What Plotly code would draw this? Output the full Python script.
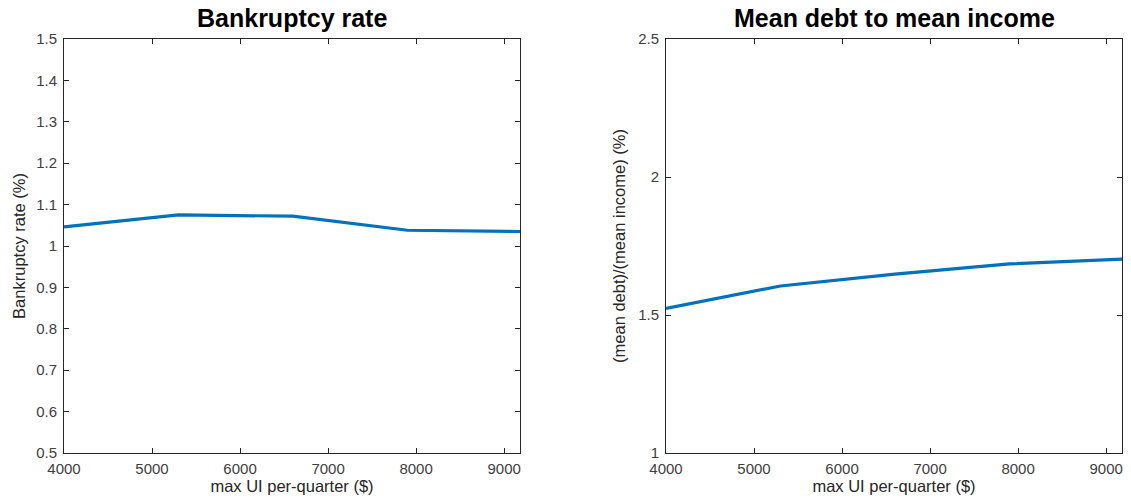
import plotly.graph_objects as go
from plotly.subplots import make_subplots

# Data
ui_max = [4000, 5300, 6600, 7900, 9200]
bankruptcy_rate = [1.046, 1.075, 1.072, 1.038, 1.035]
debt_to_income = [1.524, 1.605, 1.648, 1.685, 1.703]

x_ticks = [4000, 5000, 6000, 7000, 8000, 9000]
left_yticks = [0.5, 0.6, 0.7, 0.8, 0.9, 1.0, 1.1, 1.2, 1.3, 1.4, 1.5]
left_yticklabels = ["0.5", "0.6", "0.7", "0.8", "0.9", "1", "1.1", "1.2", "1.3", "1.4", "1.5"]
right_yticks = [1, 1.5, 2, 2.5]
right_yticklabels = ["1", "1.5", "2", "2.5"]

titles = ["Bankruptcy rate", "Mean debt to mean income"]
ytitles = ["Bankruptcy rate (%)", "(mean debt)/(mean income) (%)"]
xtitle = "max UI per-quarter ($)"

LINE_COLOR = "#0072BD"
AX_COLOR = "#262626"
TICK_COLOR = "#404040"
FONT = "Liberation Sans, Arial, Helvetica, sans-serif"

fig = make_subplots(rows=1, cols=2)

fig.add_trace(go.Scatter(x=ui_max, y=bankruptcy_rate, mode="lines",
                         line=dict(color=LINE_COLOR, width=3.2), showlegend=False), row=1, col=1)
fig.add_trace(go.Scatter(x=ui_max, y=debt_to_income, mode="lines",
                         line=dict(color=LINE_COLOR, width=3.2), showlegend=False), row=1, col=2)

W, H = 1131, 500
xd1 = [64 / W, 520 / W]
xd2 = [666 / W, 1122 / W]
yd = [1 - 453 / H, 1 - 39 / H]

common_axis = dict(
    showgrid=False, zeroline=False, showline=True, linecolor=AX_COLOR, linewidth=1,
    mirror="ticks", ticks="inside", ticklen=5, tickcolor=AX_COLOR, tickwidth=1,
    tickfont=dict(family=FONT, size=15, color=TICK_COLOR), automargin=False,
)

fig.update_xaxes(**common_axis, range=[4000, 9180], tickvals=x_ticks, ticklabelstandoff=2,
                 title=dict(text=xtitle, font=dict(family=FONT, size=16.5, color=AX_COLOR), standoff=3))
fig.update_xaxes(domain=xd1, row=1, col=1)
fig.update_xaxes(domain=xd2, row=1, col=2)

fig.update_yaxes(**common_axis, ticklabelstandoff=3)
fig.update_yaxes(domain=yd, range=[0.5, 1.5], tickvals=left_yticks, ticktext=left_yticklabels,
                 title=dict(text=ytitles[0], font=dict(family=FONT, size=16.5, color=AX_COLOR), standoff=6),
                 row=1, col=1)
fig.update_yaxes(domain=yd, range=[1, 2.5], tickvals=right_yticks, ticktext=right_yticklabels,
                 title=dict(text=ytitles[1], font=dict(family=FONT, size=16.5, color=AX_COLOR), standoff=8),
                 row=1, col=2)

for i, t in enumerate(titles):
    xc = (xd1[0] + xd1[1]) / 2 if i == 0 else (xd2[0] + xd2[1]) / 2
    fig.add_annotation(text="<b>%s</b>" % t, x=xc, y=1 - 18 / H, xref="paper", yref="paper",
                       xanchor="center", yanchor="middle", showarrow=False,
                       font=dict(family=FONT, size=25, color="#000000"))

fig.update_layout(
    width=W, height=H, margin=dict(l=0, r=0, t=0, b=0),
    paper_bgcolor="white", plot_bgcolor="white",
    font=dict(family=FONT, color=AX_COLOR),
)

fig.write_html("out.html")
